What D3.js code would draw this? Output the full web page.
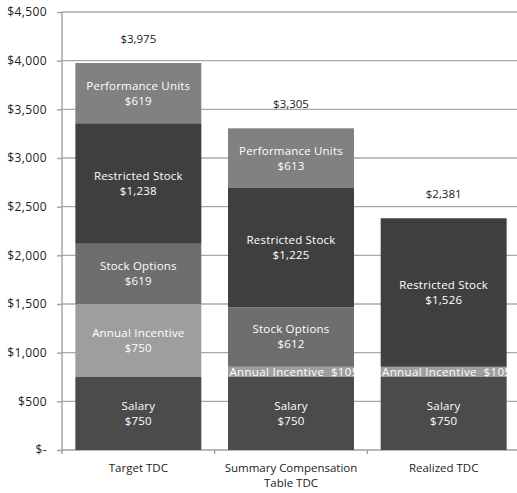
<!DOCTYPE html>
<html>
<head>
<meta charset="utf-8">
<script src="https://cdn.jsdelivr.net/npm/d3@7"></script>
<style>
  html, body { margin: 0; padding: 0; background: #fff; }
  svg { display: block; }
  text { font-family: "Open Sans", sans-serif; }
</style>
</head>
<body>
<svg id="chart" width="517" height="493"></svg>
<script>
const categories = ["Target TDC", "Summary Compensation\nTable TDC", "Realized TDC"];
const seriesNames = ["Salary", "Annual Incentive", "Stock Options", "Restricted Stock", "Performance Units"];
const salary = [750, 750, 750];
const annualIncentive = [750, 105, 105];
const stockOptions = [619, 612, 0];
const restrictedStock = [1238, 1225, 1526];
const performanceUnits = [619, 613, 0];
const totals = [3975, 3305, 2381];
const yTicks = [0, 500, 1000, 1500, 2000, 2500, 3000, 3500, 4000, 4500];
const seriesColors = ["#4b4b4b", "#9e9e9e", "#6e6e6e", "#3f3f3f", "#818181"];

const seriesValues = [salary, annualIncentive, stockOptions, restrictedStock, performanceUnits];
const svg = d3.select("#chart");
const plotLeft = 62, plotRight = 520, plotTop = 12, plotBottom = 450;

const y = d3.scaleLinear().domain([0, 4500]).range([plotBottom, plotTop]);
const x = d3.scaleBand().domain(categories).range([plotLeft, plotRight]).paddingInner(0.175).paddingOuter(0.0875);

const fmt = d3.format(",");
const money = v => v === 0 ? "$-" : "$" + fmt(v);

// gridlines
svg.append("g").selectAll("line").data(yTicks.filter(d => d > 0)).join("line")
  .attr("x1", plotLeft).attr("x2", 517)
  .attr("y1", d => y(d)).attr("y2", d => y(d))
  .attr("stroke", "#a8a8a8").attr("stroke-width", 1.4);

// y axis
const yAxis = d3.axisLeft(y).tickValues(yTicks).tickSize(5).tickPadding(10).tickFormat(money);
const gy = svg.append("g").attr("transform", `translate(${plotLeft},0)`).call(yAxis);
gy.select(".domain").attr("stroke", "#a0a0a0").attr("stroke-width", 1.4).attr("d", `M0,${plotBottom}V${plotTop}`);
gy.selectAll(".tick line").attr("stroke", "#a0a0a0").attr("stroke-width", 1.4);
gy.selectAll(".tick text").attr("fill", "#222").style("font-size", "12px").style("letter-spacing", "0.4px").attr("font-family", null);

// x axis line & boundary ticks
svg.append("line").attr("x1", plotLeft).attr("x2", 517).attr("y1", plotBottom).attr("y2", plotBottom)
  .attr("stroke", "#a0a0a0").attr("stroke-width", 1.4);
const step = x.step();
svg.append("g").selectAll("line").data(d3.range(categories.length + 1)).join("line")
  .attr("x1", i => plotLeft + i * step).attr("x2", i => plotLeft + i * step)
  .attr("y1", plotBottom).attr("y2", plotBottom + 4)
  .attr("stroke", "#a0a0a0").attr("stroke-width", 1.4);

// stacked data
const stackData = categories.map((c, i) => {
  const o = { cat: c };
  seriesNames.forEach((s, j) => o[s] = seriesValues[j][i]);
  return o;
});
const stack = d3.stack().keys(seriesNames)(stackData);

const groups = svg.append("g").selectAll("g").data(stack).join("g")
  .attr("fill", (d, i) => seriesColors[i]);
groups.selectAll("rect").data(d => d.filter(v => v[1] - v[0] > 0)).join("rect")
  .attr("x", v => x(v.data.cat))
  .attr("width", x.bandwidth())
  .attr("y", v => y(v[1]))
  .attr("height", v => y(v[0]) - y(v[1]));

// segment labels
const labelG = svg.append("g");
stack.forEach(layer => {
  layer.forEach(v => {
    const val = v[1] - v[0];
    if (val <= 0) return;
    const cx = x(v.data.cat) + x.bandwidth() / 2;
    const cy = (y(v[0]) + y(v[1])) / 2;
    const h = y(v[0]) - y(v[1]);
    const t = labelG.append("text").attr("x", cx).attr("text-anchor", "middle")
      .attr("fill", "#fff").style("font-size", "11.5px").style("letter-spacing", "0.2px");
    if (h < 25) {
      t.attr("y", cy + 4).style("white-space", "pre").style("letter-spacing", "0.35px")
        .attr("x", cx + 3).text(layer.key + "  " + money(val));
    } else {
      t.append("tspan").attr("x", cx).attr("y", cy - 3.5).text(layer.key);
      t.append("tspan").attr("x", cx).attr("y", cy + 11.5).text(money(val));
    }
  });
});

// totals
svg.append("g").selectAll("text").data(totals).join("text")
  .attr("x", (d, i) => x(categories[i]) + x.bandwidth() / 2)
  .attr("y", d => y(d) - 20)
  .attr("text-anchor", "middle").attr("fill", "#222").style("font-size", "11.5px")
  .text(d => money(d));

// category labels
svg.append("g").selectAll("text").data(categories).join("text")
  .attr("text-anchor", "middle").attr("fill", "#222").style("font-size", "11.5px")
  .each(function(d) {
    const cx = x(d) + x.bandwidth() / 2;
    d.split("\n").forEach((line, k) => {
      d3.select(this).append("tspan").attr("x", cx).attr("y", 472 + k * 15).text(line);
    });
  });
</script>
</body>
</html>
